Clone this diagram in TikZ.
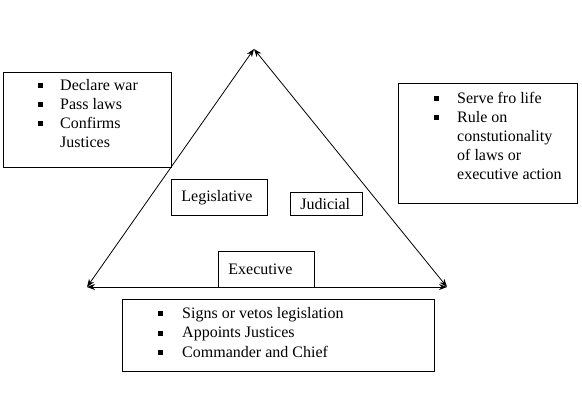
\documentclass[tikz,border=0pt]{standalone}
\usepackage{fontspec}
\setmainfont{Liberation Serif}
\usetikzlibrary{arrows.meta}

\begin{document}
\begin{tikzpicture}[x=1pt,y=-1pt,
    font=\fontsize{16}{19}\selectfont,
    branch/.style={draw,line width=0.8pt,inner xsep=10pt,inner ysep=0pt,align=left,anchor=north west},
    duties/.style={draw,line width=0.8pt,inner sep=0pt,anchor=north west},
    item/.style={anchor=base west,inner sep=0pt},
    check/.style={line width=0.8pt,{Stealth[length=8pt,width=6pt]}-{Stealth[length=8pt,width=6pt]}}]
    \useasboundingbox (0,0) rectangle (582,408);

    \coordinate (top) at (254,49);
    \coordinate (left) at (87,287);
    \coordinate (right) at (447,287);
    \draw[check] (top) -- (left);
    \draw[check] (top) -- (right);
    \draw[check] (left) -- (right);

    \node[branch,text width=76pt,minimum height=36pt] (leg) at (171,179) {Legislative};
    \node[branch,text width=52pt,minimum height=23pt] (jud) at (290,192) {Judicial};
    \node[branch,text width=76pt,minimum height=36pt] (exe) at (218,251) {Executive};

    \node[duties,minimum width=168pt,minimum height=95pt] (congress) at (3,72) {};
    \foreach \t [count=\i from 0] in {Declare war,Pass laws,Confirms,Justices}
        \node[item] (cong\i) at (60,{90+19*\i}) {\t};
    \foreach \i in {0,1,2}
        \fill (38,{83+19*\i}) rectangle ++(5,5);

    \node[duties,minimum width=179pt,minimum height=120pt] (court) at (398,83) {};
    \foreach \t [count=\i from 0] in {Serve fro life,Rule on,constutionality,of laws or,executive action}
        \node[item] (court\i) at (457,{103+19*\i}) {\t};
    \foreach \i in {0,1}
        \fill (434,{96+19*\i}) rectangle ++(5,5);

    \node[duties,minimum width=312pt,minimum height=72pt] (pres) at (122,299) {};
    \foreach \t [count=\i from 0] in {Signs or vetos legislation,Appoints Justices,Commander and Chief}
        \node[item] (pres\i) at (182,{318+19.5*\i}) {\t};
    \foreach \i in {0,1,2}
        \fill (158,{311+19.5*\i}) rectangle ++(5,5);
\end{tikzpicture}
\end{document}
